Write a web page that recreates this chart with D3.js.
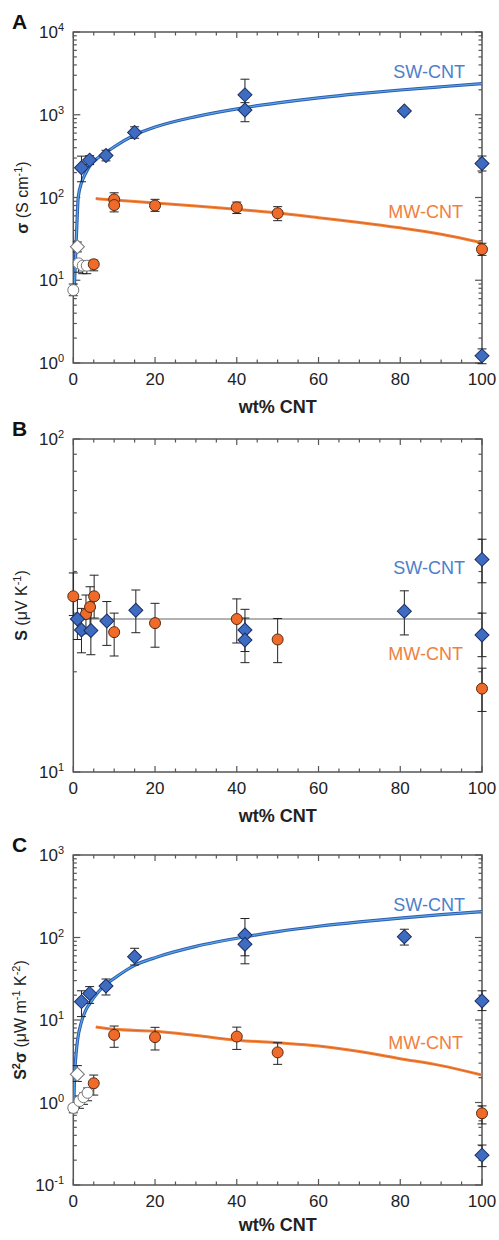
<!DOCTYPE html>
<html>
<head>
<meta charset="utf-8">
<script src="https://cdn.jsdelivr.net/npm/d3@7"></script>
<style>
body { margin: 0; background: #fff; }
svg text { font-family: "Liberation Sans", Arial, Helvetica, sans-serif; }
</style>
</head>
<body>
<div id="chart"></div>
<script>

// ---- data: [wt% CNT, value, err low, err high] ----

// panel A, conductivity (S/cm)
var sigmaSW = [[2, 229, 155, 316], [4, 283, 250, 320], [8, 322, 277, 372], [15, 610, 520, 715],
    [42, 1740, 1150, 2690], [42, 1140, 824, 1400], [81, 1110, 1030, 1190],
    [100, 258, 209, 317], [100, 1.22, 0.98, 1.48]];
var sigmaMW = [[5, 15.6, 13, 17.5], [10, 95, 80, 114], [10, 81, 67, 95], [20, 80, 68, 95],
    [40, 76, 64, 88], [50, 64.5, 52.5, 77.5], [100, 23.7, 20, 28]];
var sigmaOpenCircle = [[0, 7.6, 6.5, 9], [1.3, 16, 12.5, 17], [2.3, 15, 12, 16.5], [3.3, 15, 12, 16.5]];
var sigmaOpenDiamond = [[1, 25.4, 22, 29]];
var sigmaFitSW = [[0.25, 8], [0.4, 12], [0.65, 25], [0.9, 50], [1.2, 100], [2, 150], [3, 195],
    [4, 240], [6, 300], [8, 350], [10, 410], [15, 570], [20, 710], [30, 950], [42, 1220],
    [50, 1390], [60, 1600], [70, 1800], [80, 1990], [90, 2180], [100, 2380]];
var sigmaFitMW = [[5.5, 97], [10, 93], [20, 86], [30, 79], [40, 72], [50, 65], [60, 57],
    [70, 50], [80, 43], [90, 36], [100, 28.4]];

// panel B, Seebeck coefficient (uV/K)
var seebeckSW = [[1, 28.8, 25, 33], [2, 26.7, 22.8, 31], [4.3, 26.6, 22.5, 31], [8.2, 28.4, 24, 32.5],
    [15.3, 30.6, 26.2, 35.2], [42, 26.7, 23, 30.8], [42, 24.9, 21.3, 29], [81, 30.4, 25.8, 35],
    [100, 43.5, 37, 50], [100, 25.8, 22.2, 30]];
var seebeckMW = [[0, 33.7, 29.5, 39.6], [3.1, 29.8, 26, 34], [4.1, 31.3, 27, 36], [5.1, 33.7, 29, 39],
    [10, 26.3, 22.3, 30], [20, 28, 23.7, 32.1], [40, 28.8, 24.4, 33.1], [50, 25, 21.3, 28.9],
    [100, 17.8, 15.2, 20.5]];
var seebeckLine = [[0, 28.8], [100, 28.8]];

// panel C, power factor (uW m-1 K-2)
var pfSW = [[2, 16.7, 11, 22.6], [4, 21, 15.9, 25.4], [8, 25.8, 20.1, 31.4], [15, 58.5, 46.4, 74],
    [42, 107, 60, 170], [42, 83, 48, 110], [81, 102, 81, 126], [100, 17, 13, 22.6],
    [100, 0.23, 0.167, 0.305]];
var pfMW = [[5, 1.71, 1.23, 2.15], [10, 6.6, 4.67, 8.45], [20, 6.2, 4.33, 8.15], [40, 6.3, 4.4, 8.2],
    [50, 4.05, 2.9, 5.3], [100, 0.74, 0.55, 0.91]];
var pfOpenCircle = [[0, 0.86, 0.75, 0.95], [1.5, 1.04, 0.85, 1.2], [2.5, 1.16, 0.95, 1.3], [3.5, 1.31, 1.05, 1.5]];
var pfOpenDiamond = [[1, 2.2, 1.8, 2.8]];
var pfFitSW = [[0.15, 1.0], [0.3, 2.0], [0.6, 3.5], [1, 5.5], [2, 9.5], [3, 13], [4, 15.7],
    [6, 21.5], [8, 27], [10, 32], [15, 46], [20, 57], [30, 78], [42, 102], [50, 118],
    [60, 137], [70, 155], [80, 172], [90, 189], [100, 206]];
var pfFitMW = [[5.5, 8.2], [10, 7.7], [20, 7.3], [30, 6.5], [40, 5.7], [50, 5.3], [60, 4.85],
    [70, 4.15], [80, 3.4], [90, 2.8], [100, 2.15]];

var xMajor = [0, 20, 40, 60, 80, 100];

var left = 73.3, right = 482;

var svg = d3.select("#chart").append("svg")
    .attr("width", 499)
    .attr("height", 1240);

var swColor = "#3d6cc0", mwColor = "#f06a2a";

function drawPanel(p) {
    var x = d3.scaleLinear().domain([0, 100]).range([left, right]);
    var y = d3.scaleLog().domain(p.domain).range([p.bottom, p.top]);
    var g = svg.append("g");

    g.append("clipPath").attr("id", "clip" + p.name)
        .append("rect")
        .attr("x", left).attr("y", p.top)
        .attr("width", right - left).attr("height", p.bottom - p.top);

    // x ticks, both sides, inward
    var xt = d3.range(0, 101, 5);
    g.selectAll(".xtb").data(xt).enter().append("line")
        .attr("x1", d => x(d)).attr("x2", d => x(d))
        .attr("y1", p.bottom).attr("y2", d => p.bottom - (d % 20 === 0 ? 6 : 3.5))
        .attr("stroke", "#555").attr("stroke-width", 1.2);
    g.selectAll(".xtt").data(xt).enter().append("line")
        .attr("x1", d => x(d)).attr("x2", d => x(d))
        .attr("y1", p.top).attr("y2", d => p.top + (d % 20 === 0 ? 6 : 3.5))
        .attr("stroke", "#555").attr("stroke-width", 1.2);

    // log ticks
    var e0 = Math.round(Math.log10(p.domain[0])), e1 = Math.round(Math.log10(p.domain[1]));
    var yt = [];
    for (var e = e0; e < e1; e++) {
        for (var k = 1; k < 10; k++) yt.push({v: k * Math.pow(10, e), major: k === 1});
    }
    yt.push({v: Math.pow(10, e1), major: true});
    g.selectAll(".ytl").data(yt).enter().append("line")
        .attr("x1", left).attr("x2", d => left + (d.major ? 7 : 3.5))
        .attr("y1", d => y(d.v)).attr("y2", d => y(d.v))
        .attr("stroke", "#555").attr("stroke-width", 1.2);
    g.selectAll(".ytr").data(yt).enter().append("line")
        .attr("x1", right).attr("x2", d => right - (d.major ? 7 : 3.5))
        .attr("y1", d => y(d.v)).attr("y2", d => y(d.v))
        .attr("stroke", "#555").attr("stroke-width", 1.2);

    // frame
    g.append("rect")
        .attr("x", left).attr("y", p.top)
        .attr("width", right - left).attr("height", p.bottom - p.top)
        .attr("fill", "none").attr("stroke", "#555").attr("stroke-width", 1.5);

    // tick labels
    g.selectAll(".xl").data(xMajor).enter().append("text")
        .attr("x", d => x(d)).attr("y", p.bottom + 22)
        .attr("text-anchor", "middle")
        .attr("font-size", 17).attr("fill", "#222")
        .text(d => d);

    var decades = d3.range(e0, e1 + 1);
    var yl = g.selectAll(".yl").data(decades).enter().append("text")
        .attr("x", 64).attr("y", d => y(Math.pow(10, d)) + 6)
        .attr("text-anchor", "end")
        .attr("font-size", 17).attr("fill", "#222");
    yl.append("tspan").text("10");
    yl.append("tspan").attr("dy", -7).attr("font-size", 11).text(d => d);

    // axis titles
    g.append("text")
        .attr("x", (left + right) / 2).attr("y", p.bottom + p.xTitle)
        .attr("text-anchor", "middle")
        .attr("font-size", 18).attr("font-weight", "bold").attr("fill", "#222")
        .text("wt% CNT");

    g.append("text")
        .attr("x", 12).attr("y", p.top - 3)
        .attr("font-size", 21).attr("font-weight", "bold").attr("fill", "#111")
        .text(p.name);

    var yt2 = g.append("text")
        .attr("transform", "translate(" + p.titleX + "," + (p.top + p.bottom) / 2 + ") rotate(-90)")
        .attr("text-anchor", "middle")
        .attr("font-size", 16).attr("fill", "#222");
    p.title.forEach(function(t) {
        var ts = yt2.append("tspan").text(t.s);
        if (t.b) ts.attr("font-weight", "bold");
        if (t.sup) ts.attr("dy", -6).attr("font-size", 11);
        if (t.down) ts.attr("dy", 6);
    });

    var plot = g.append("g").attr("clip-path", "url(#clip" + p.name + ")");
    var line = d3.line().x(d => x(d[0])).y(d => y(d[1])).curve(d3.curveMonotoneX);

    if (p.ref) {
        plot.append("path").datum(p.ref)
            .attr("d", d3.line().x(d => x(d[0])).y(d => y(d[1])))
            .attr("fill", "none").attr("stroke", "#999").attr("stroke-width", 1.5);
    }
    if (p.fitSW) {
        plot.append("path").datum(p.fitSW).attr("d", line)
            .attr("fill", "none").attr("stroke", "#2d5db0").attr("stroke-width", 3.2);
        plot.append("path").datum(p.fitSW).attr("d", line)
            .attr("fill", "none").attr("stroke", "#5aa6e6").attr("stroke-width", 1.2);
    }
    if (p.fitMW) {
        plot.append("path").datum(p.fitMW).attr("d", line)
            .attr("fill", "none").attr("stroke", "#f4843a").attr("stroke-width", 3);
        plot.append("path").datum(p.fitMW).attr("d", line)
            .attr("fill", "none").attr("stroke", "#d9662a").attr("stroke-width", 1);
    }

    // series labels
    g.append("text").attr("x", 465).attr("y", p.swLabel)
        .attr("text-anchor", "end").attr("font-size", 18).attr("fill", "#4b80cb")
        .text("SW-CNT");
    g.append("text").attr("x", 463).attr("y", p.mwLabel)
        .attr("text-anchor", "end").attr("font-size", 18).attr("fill", "#f08040")
        .text("MW-CNT");

    // error bars
    var all = (p.openCircle || []).concat(p.openDiamond || [], p.sw, p.mw);
    var eb = g.selectAll(".eb").data(all).enter().append("g");
    eb.append("line")
        .attr("x1", d => x(d[0])).attr("x2", d => x(d[0]))
        .attr("y1", d => y(d[2])).attr("y2", d => y(d[3]))
        .attr("stroke", "#222").attr("stroke-width", 1);
    [2, 3].forEach(function(i) {
        eb.append("line")
            .attr("x1", d => x(d[0]) - 4.5).attr("x2", d => x(d[0]) + 4.5)
            .attr("y1", d => y(d[i])).attr("y2", d => y(d[i]))
            .attr("stroke", "#222").attr("stroke-width", 1);
    });

    var diamond = d3.symbol().type(d3.symbolSquare).size(98);

    g.selectAll(".od").data(p.openDiamond || []).enter().append("path")
        .attr("d", diamond)
        .attr("transform", d => "translate(" + x(d[0]) + "," + y(d[1]) + ") rotate(45)")
        .attr("fill", "#fff").attr("stroke", "#777").attr("stroke-width", 1);
    g.selectAll(".oc").data(p.openCircle || []).enter().append("circle")
        .attr("cx", d => x(d[0])).attr("cy", d => y(d[1])).attr("r", 5.5)
        .attr("fill", "#fff").attr("stroke", "#777").attr("stroke-width", 1);

    g.selectAll(".mw").data(p.mw).enter().append("circle")
        .attr("cx", d => x(d[0])).attr("cy", d => y(d[1])).attr("r", 5.5)
        .attr("fill", mwColor).attr("stroke", "#5a2a10").attr("stroke-width", 1);
    g.selectAll(".sw").data(p.sw).enter().append("path")
        .attr("d", diamond)
        .attr("transform", d => "translate(" + x(d[0]) + "," + y(d[1]) + ") rotate(45)")
        .attr("fill", swColor).attr("stroke", "#1c2f66").attr("stroke-width", 1);
}

drawPanel({
    name: "A", top: 32, bottom: 363, domain: [1, 1e4], titleX: 28, xTitle: 50,
    title: [{s: "σ", b: true}, {s: " (S cm"}, {s: "-1", sup: true}, {s: ")", down: true}],
    sw: sigmaSW, mw: sigmaMW, openCircle: sigmaOpenCircle, openDiamond: sigmaOpenDiamond,
    fitSW: sigmaFitSW, fitMW: sigmaFitMW, swLabel: 78, mwLabel: 218
});

drawPanel({
    name: "B", top: 439, bottom: 772, domain: [10, 100], titleX: 27, xTitle: 50,
    title: [{s: "S", b: true}, {s: " (μV K"}, {s: "-1", sup: true}, {s: ")", down: true}],
    sw: seebeckSW, mw: seebeckMW, ref: seebeckLine, swLabel: 574, mwLabel: 660
});

drawPanel({
    name: "C", top: 855, bottom: 1185, domain: [0.1, 1000], titleX: 26, xTitle: 46,
    title: [{s: "S", b: true}, {s: "2", b: true, sup: true}, {s: "σ", b: true, down: true},
        {s: " (μW m"}, {s: "-1", sup: true}, {s: " K", down: true}, {s: "-2", sup: true}, {s: ")", down: true}],
    sw: pfSW, mw: pfMW, openCircle: pfOpenCircle, openDiamond: pfOpenDiamond,
    fitSW: pfFitSW, fitMW: pfFitMW, swLabel: 911, mwLabel: 1049
});

</script>
</body>
</html>
